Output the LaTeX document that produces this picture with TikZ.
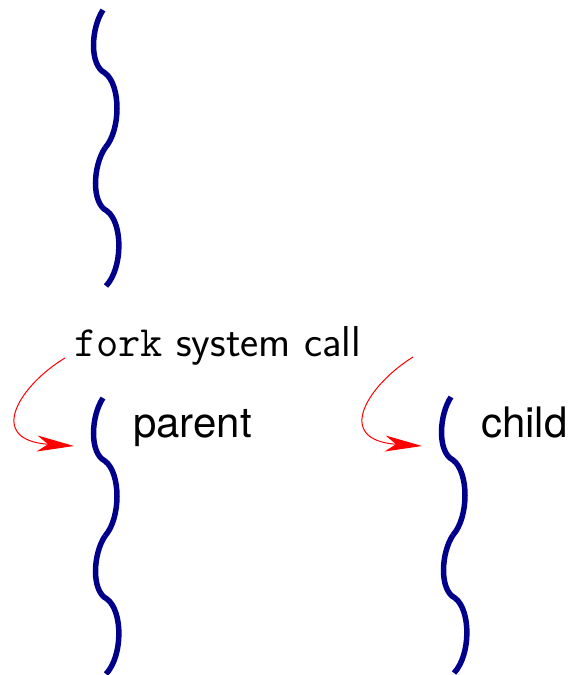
\documentclass[tikz,border=0pt]{standalone}
\usepackage{fontspec}
\newfontfamily\helv{TeX Gyre Heros}
\usetikzlibrary{arrows.meta}
\definecolor{threadblue}{RGB}{0,0,139}
\begin{document}
\begin{tikzpicture}[x=1pt,y=-1pt,
  threadline/.style={line width=5.5pt, draw=threadblue},
  forkarrow/.style={red, line width=1pt, -{Stealth[length=37pt,width=16pt,inset=11pt]}},
  lbl/.style={inner sep=0pt, anchor=base west},
  thread/.pic={
    \draw[threadline] (0,0) .. controls (-12,18) and (-14,55) .. (2,63)
                            .. controls (18,75) and (18,120) .. (2,138);
    \draw[threadline] (2,138) .. controls (-10,156) and (-12,193) .. (4,201)
                              .. controls (20,213) and (20,258) .. (3,276);
  }]
\useasboundingbox (0,0) rectangle (576,675);
% threads
\pic (before) at (103,10) {thread};
\pic (parentthread) at (103,398) {thread};
\pic (childthread) at (451,397) {thread};
% labels
\node[lbl, font=\fontsize{43.2}{50}\selectfont] (forklbl) at (74,356) {\texttt{fork} \textsf{system call}};
\node[lbl, font=\helv\fontsize{42}{50}\selectfont] (parentlbl) at (133,437) {parent};
\node[lbl, font=\helv\fontsize{42}{50}\selectfont] (childlbl) at (481,437) {child};
% arrows
\coordinate (a1s) at (65,358);
\coordinate (a1e) at (74,446);
\coordinate (a2s) at (413,357);
\coordinate (a2e) at (422,446);
\draw[forkarrow] (a1s) .. controls (20,385) and (-15,440) .. (a1e);
\draw[forkarrow] (a2s) .. controls (368,385) and (333,440) .. (a2e);
\end{tikzpicture}
\end{document}
